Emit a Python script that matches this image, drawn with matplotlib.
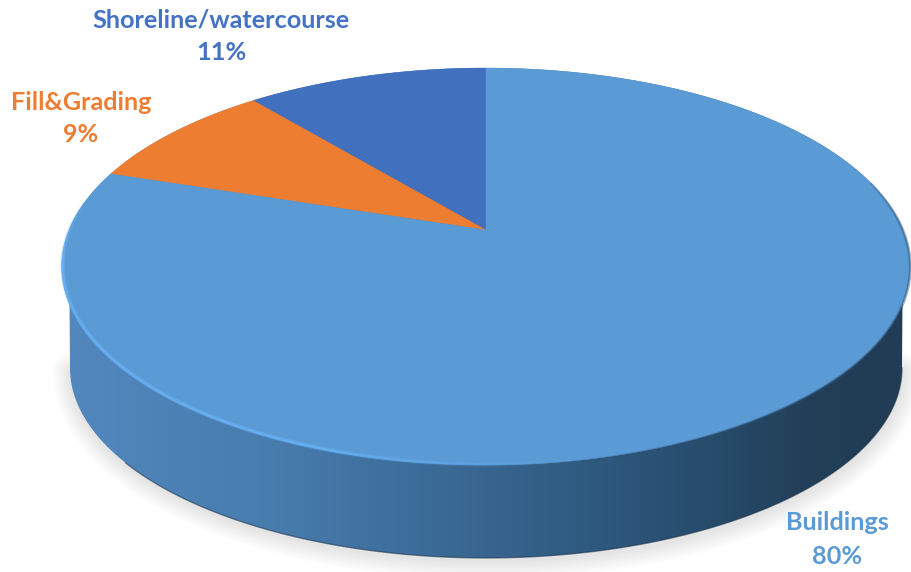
import numpy as np
import matplotlib
matplotlib.use("Agg")
import matplotlib.pyplot as plt
from matplotlib.collections import LineCollection
from matplotlib.colors import LinearSegmentedColormap
from matplotlib.patches import Polygon

categories = ["Shoreline/watercourse", "Fill&Grading", "Buildings"]
values = [11, 9, 80]
colors = ["#4070BE", "#ED7D31", "#5B9BD5"]
text_colors = ["#4472C4", "#ED7D31", "#5B9BD5"]
label_pos = [(221, 20, 52), (81, 103, 135), (837, 523, 556)]
side_stops = [(0.0, "#5288BE"), (0.25, "#477CAE"), (0.5, "#37658F"), (0.62, "#2F5A80"),
              (0.78, "#264A69"), (0.88, "#223F58"), (1.0, "#213C54")]

APEX = (486, 230)
T, S, K = 417.0, 191.8, 0.184
LOW = (486, 368, 416, 190)

fig = plt.figure(figsize=(9.11, 5.72), dpi=100)
ax = fig.add_axes([0, 0, 1, 1])


def project(deg):
    t = np.radians(deg)
    d = 1 + K * np.sin(t)
    return APEX[0] + T * np.cos(t) / d, APEX[1] - S * np.sin(t) / d


wedges, _ = ax.pie(values, startangle=90, counterclock=True, colors=colors)
ax.set_aspect("auto")
ax.set_xlim(0, 911)
ax.set_ylim(572, 0)
ax.axis("off")

# outlines
k_left = np.linspace(180, 360, 361)
lx = LOW[0] + LOW[2] * np.cos(np.radians(k_left))
ly = LOW[1] - LOW[3] * np.sin(np.radians(k_left))

# soft shadow
for w in np.arange(26, 1, -3):
    ax.plot(lx + 1, ly + 3, color="#3a3028", lw=w, alpha=0.010, zorder=1, solid_capstyle="round")

# side wall
up = np.linspace(0, 180, 361)
ux, uy = project(up)
hull = np.vstack([np.column_stack([ux, uy]), np.column_stack([lx, ly])])
poly = Polygon(hull, closed=True, transform=ax.transData, fc="none", ec="none")
ax.add_patch(poly)
cmap = LinearSegmentedColormap.from_list("side", side_stops)
img = ax.imshow(np.linspace(0, 1, 512).reshape(1, -1), cmap=cmap, extent=(62, 911, 572, 0),
                aspect="auto", zorder=2)
img.set_clip_path(poly)
ax.set_xlim(0, 911)
ax.set_ylim(572, 0)
ax.plot(lx[60:], ly[60:], color="#1b3247", lw=1.0, alpha=0.55, zorder=2.5)

# top face slices
for wedge, color in zip(wedges, colors):
    wedge.set_visible(False)
    th = np.linspace(wedge.theta1, wedge.theta2, 300)
    x, y = project(th)
    ax.fill(np.r_[APEX[0], x], np.r_[APEX[1], y], color=color, lw=0.3, zorder=3)

# rim highlight (left/front) and dark blur (right/front)
th = np.linspace(170, 282, 300)
x, y = project(th)
pts = np.column_stack([x + 1.0, y - 0.8]).reshape(-1, 1, 2)
segs = np.concatenate([pts[:-1], pts[1:]], axis=1)
alpha = np.interp(th[:-1], [170, 190, 250, 268, 282], [0, 0.8, 0.8, 0.25, 0])
for lw, fac in [(3.2, 0.45), (1.8, 1.0)]:
    rgba = np.zeros((len(segs), 4))
    rgba[:, :3] = matplotlib.colors.to_rgb("#68B2F5")
    rgba[:, 3] = alpha * fac
    ax.add_collection(LineCollection(segs, colors=rgba, linewidths=lw, zorder=4))

th = np.linspace(280, 375, 200)
x, y = project(th)
pts = np.column_stack([x, y + 0.5]).reshape(-1, 1, 2)
segs = np.concatenate([pts[:-1], pts[1:]], axis=1)
rgba = np.zeros((len(segs), 4))
rgba[:, :3] = matplotlib.colors.to_rgb("#2a4a68")
rgba[:, 3] = np.interp(th[:-1], [280, 300, 360, 375], [0, 0.45, 0.45, 0.2])
ax.add_collection(LineCollection(segs, colors=rgba, linewidths=2.0, zorder=4))

for name, val, col, (px, y1, y2) in zip(categories, values, text_colors, label_pos):
    ax.text(px, y1, name, color=col, fontsize=18.2, fontweight="bold", family="Lato",
            ha="center", va="center", zorder=5)
    ax.text(px, y2, f"{val}%", color=col, fontsize=18.2, fontweight="bold", family="Lato",
            ha="center", va="center", zorder=5)

fig.savefig("out.png", dpi=100)
